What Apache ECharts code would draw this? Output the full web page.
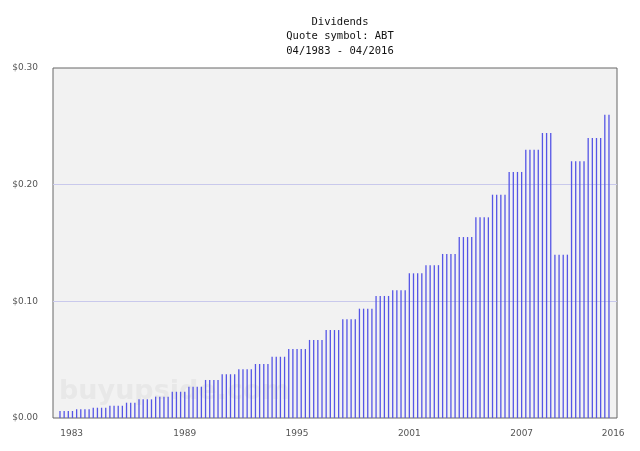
<!DOCTYPE html>
<html>
<head>
<meta charset="utf-8">
<script src="https://cdn.jsdelivr.net/npm/echarts@6/dist/echarts.min.js"></script>
<style>html,body{margin:0;padding:0;background:#fff;}#c{width:640px;height:451px;}</style>
</head>
<body>
<div id="c"></div>
<script>
// Quarterly dividends, 04/1983 .. 04/2016 (one value per payment, in order)
var dividends = [
  0.0060,0.0060,0.0060,0.0060,
  0.0075,0.0075,0.0075,0.0075,
  0.0088,0.0088,0.0088,0.0088,
  0.0105,0.0105,0.0105,0.0105,
  0.0131,0.0131,0.0131,
  0.0160,0.0160,0.0160,0.0160,
  0.0183,0.0183,0.0183,0.0183,
  0.0225,0.0225,0.0225,0.0225,
  0.0268,0.0268,0.0268,0.0268,
  0.0326,0.0326,0.0326,0.0326,
  0.0375,0.0375,0.0375,0.0375,
  0.0417,0.0417,0.0417,0.0417,
  0.0463,0.0463,0.0463,0.0463,
  0.0525,0.0525,0.0525,0.0525,
  0.0591,0.0591,0.0591,0.0591,0.0591,
  0.0669,0.0669,0.0669,0.0669,
  0.0754,0.0754,0.0754,0.0754,
  0.0846,0.0846,0.0846,0.0846,
  0.0937,0.0937,0.0937,0.0937,
  0.1046,0.1046,0.1046,0.1046,
  0.1095,0.1095,0.1095,0.1095,
  0.1240,0.1240,0.1240,0.1240,
  0.1310,0.1310,0.1310,0.1310,
  0.1406,0.1406,0.1406,0.1406,
  0.1551,0.1551,0.1551,0.1551,
  0.1720,0.1720,0.1720,0.1720,
  0.1914,0.1914,0.1914,0.1914,
  0.2109,0.2109,0.2109,0.2109,
  0.2300,0.2300,0.2300,0.2300,
  0.2443,0.2443,0.2443,
  0.1400,0.1400,0.1400,0.1400,
  0.2200,0.2200,0.2200,0.2200,
  0.2400,0.2400,0.2400,0.2400,
  0.2600,0.2600
];
// x-axis tick labels and the payment index where each one sits
var tickLabels = ['1983','1989','1995','2001','2007','2016'];
var tickIndex = [2.8, 30, 57, 84, 111, 133];
var yTicks = [0, 0.1, 0.2, 0.3];

var seriesData = dividends.map(function (v, i) { return [i, v]; });

var chart = echarts.init(document.getElementById('c'), null, {renderer: 'canvas'});
chart.setOption({
  animation: false,
  backgroundColor: '#ffffff',
  title: {
    text: 'Dividends\nQuote symbol: ABT\n04/1983 - 04/2016',
    left: 335, top: 10, textAlign: 'center',
    textStyle: {fontFamily: 'DejaVu Sans Mono', fontSize: 10.5, fontWeight: 'normal', color: '#111', lineHeight: 14.5}
  },
  graphic: [{
    type: 'text', left: 59, top: 378, z: 1, silent: true,
    style: {text: 'buyupside.com', fontFamily: 'DejaVu Sans', fontWeight: 'bold', fontSize: 27, fill: '#e8e8e8'}
  }],
  grid: {
    left: 53, right: 23, top: 68, bottom: 33,
    show: true, backgroundColor: '#f2f2f2', borderColor: '#666', borderWidth: 1, z: 0
  },
  xAxis: {
    type: 'value', min: -1.68, max: 133.93,
    axisLine: {show: false}, axisTick: {show: false}, splitLine: {show: false},
    axisLabel: {
      customValues: tickIndex,
      formatter: function (v) { var k = tickIndex.indexOf(v); return k >= 0 ? tickLabels[k] : ''; },
      fontFamily: 'DejaVu Sans', fontSize: 9, color: '#555', margin: 11
    }
  },
  yAxis: {
    type: 'value', min: 0, max: 0.3, interval: 0.1,
    axisLine: {show: false}, axisTick: {show: false},
    splitLine: {show: true, showMinLine: false, showMaxLine: false, lineStyle: {color: '#c9c9ec', width: 1}},
    axisLabel: {
      customValues: yTicks,
      formatter: function (v) { return '$' + v.toFixed(2); },
      fontFamily: 'DejaVu Sans', fontSize: 9, color: '#555', margin: 15
    }
  },
  series: [{
    type: 'bar', data: seriesData, barWidth: 1.3, z: 2,
    itemStyle: {color: '#5555e6'}
  }]
});
</script>
</body>
</html>
